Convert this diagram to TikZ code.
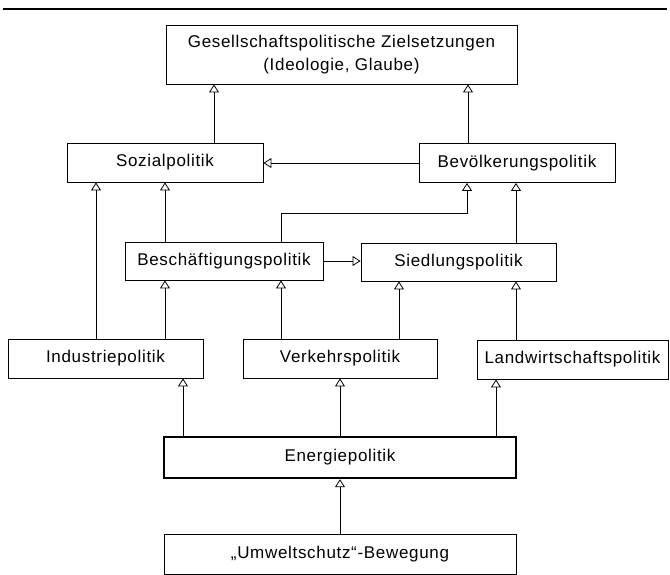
\documentclass[tikz,border=0pt]{standalone}
\usepackage{fontspec}
\setmainfont{Liberation Sans}[LetterSpace=4]
\usetikzlibrary{arrows.meta,positioning}

\begin{document}
\begin{tikzpicture}[
	x = 1pt, y = -1pt, % pixel grid, y runs downwards
	> = {Triangle[open, length=8pt, width=10pt]}, % hollow arrow head
	line width = 0.8pt, % line style
	P/.style={rectangle, draw=black, line width=0.9pt, minimum width=196pt, minimum height=39pt, inner sep=2pt, font=\fontsize{17}{23}\selectfont, align=center},  %policy box
	E/.style={P, line width=2.4pt},  %energy box, heavy frame
	]
	\useasboundingbox (0,0) rectangle (670,575);
	\draw[line width=1.4pt] (3,9) -- (667,9);

	% Nodes and their positions
	\node[P, minimum width=351pt, minimum height=59pt] (Ziel) at (341.5,54.5) {Gesellschaftspolitische Zielsetzungen\\(Ideologie, Glaube)};
	\node[P] (Sozial) at (165,162.5) {Sozialpolitik};
	\node[P] (Bevoelk) at (517,163) {Bevölkerungspolitik};
	\node[P, minimum width=198pt, minimum height=38pt] (Besch) at (224,261) {Beschäftigungspolitik};
	\node[P, minimum width=195pt, minimum height=38pt] (Siedl) at (458.5,262) {Siedlungspolitik};
	\node[P, minimum width=195pt] (Industrie) at (105.5,358.5) {Industriepolitik};
	\node[P, minimum width=194pt] (Verkehr) at (340,358.5) {Verkehrspolitik};
	\node[P, minimum width=191pt] (Landw) at (572.5,359.5) {Landwirtschaftspolitik};
	\node[E, minimum width=352pt, minimum height=41pt] (Energie) at (340,457.5) {Energiepolitik};
	\node[P, minimum width=352pt, minimum height=40pt] (Umwelt) at (340,554.5) {„Umweltschutz“-Bewegung};

	% Paths connecting nodes
	\path[->] ([xshift=49]Sozial.north) edge ([xshift=49]Sozial.north |- Ziel.south);
	\path[->] ([xshift=-49]Bevoelk.north) edge ([xshift=-49]Bevoelk.north |- Ziel.south);
	\path[->] (Bevoelk.west) edge (Bevoelk.west -| Sozial.east);
	\path[->] ([xshift=-9.5]Industrie.north) edge ([xshift=-9.5]Industrie.north |- Sozial.south);
	\path[->] ([xshift=-59]Besch.north) edge ([xshift=-59]Besch.north |- Sozial.south);
	\path[->] ([xshift=59.5]Industrie.north) edge ([xshift=59.5]Industrie.north |- Besch.south);
	\draw[->] ([xshift=57]Besch.north) |- (467,213) -- ([xshift=-50]Bevoelk.south);
	\path[->] ([xshift=57.5]Siedl.north) edge ([xshift=57.5]Siedl.north |- Bevoelk.south);
	\path[->] (Besch.east) edge (Besch.east -| Siedl.west);
	\path[->] ([xshift=-59]Verkehr.north) edge ([xshift=-59]Verkehr.north |- Besch.south);
	\path[->] ([xshift=59]Verkehr.north) edge ([xshift=59]Verkehr.north |- Siedl.south);
	\path[->] ([xshift=-56.5]Landw.north) edge ([xshift=-56.5]Landw.north |- Siedl.south);
	\path[->] ([xshift=-157]Energie.north) edge ([xshift=-157]Energie.north |- Industrie.south);
	\path[->] (Energie.north) edge (Verkehr.south);
	\path[->] ([xshift=156]Energie.north) edge ([xshift=156]Energie.north |- Landw.south);
	\path[->] (Umwelt.north) edge (Energie.south);

\end{tikzpicture}
\end{document}
